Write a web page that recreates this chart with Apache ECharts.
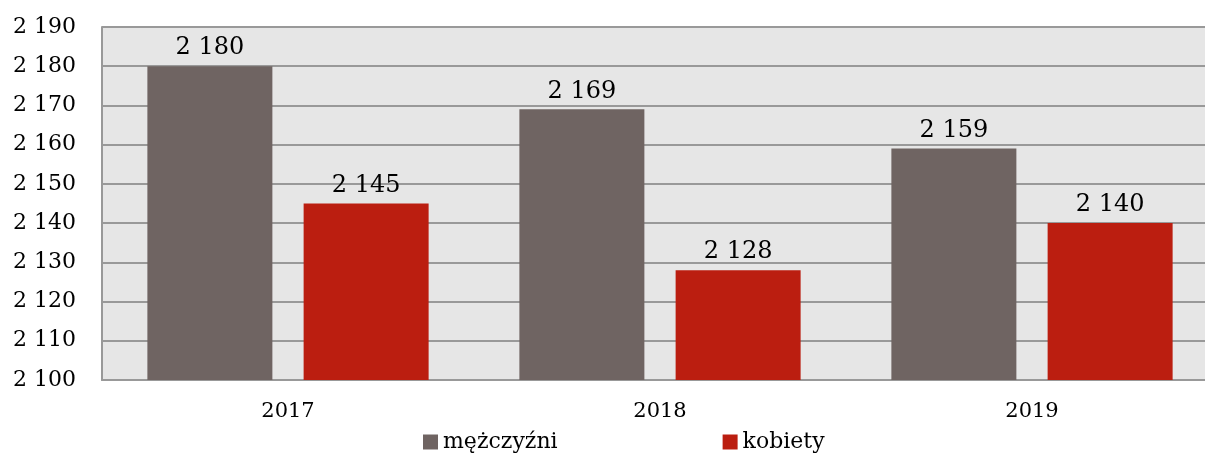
<!DOCTYPE html>
<html><head><meta charset="utf-8">
<script src="https://cdn.jsdelivr.net/npm/echarts@6/dist/echarts.min.js"></script>
<style>html,body{margin:0;padding:0;background:#fff}#c{width:1205px;height:460px}</style>
</head><body><div id="c"></div>
<script>
const categories = ['2017', '2018', '2019'];
const men = [2180, 2169, 2159];
const women = [2145, 2128, 2140];
const seriesNames = ['mężczyźni', 'kobiety'];
const FONT = '"DejaVu Serif", "Liberation Serif", serif';
const fmt = v => String(v).replace(/\B(?=(\d{3})+(?!\d))/g, ' ');
const chart = echarts.init(document.getElementById('c'));
chart.setOption({
  animation: false,
  grid: { left: 102, right: -13, top: 27, bottom: 80, outerBoundsMode: 'none', containLabel: false, show: true, backgroundColor: '#e6e6e6', borderWidth: 0 },
  legend: {
    bottom: 2, left: 418, itemGap: 165, itemWidth: 15, itemHeight: 15, icon: 'rect',
    textStyle: { fontFamily: FONT, fontSize: 22, color: '#000' },
    data: seriesNames
  },
  xAxis: {
    type: 'category', data: categories,
    axisLine: { lineStyle: { color: '#999', width: 2 } },
    axisTick: { show: false },
    axisLabel: { fontFamily: FONT, fontSize: 21, color: '#000', margin: 21 }
  },
  yAxis: {
    type: 'value', min: 2100, max: 2190, interval: 10,
    axisLine: { show: true, lineStyle: { color: '#999', width: 2 } },
    axisTick: { show: false },
    splitLine: { lineStyle: { color: '#999', width: 2 } },
    axisLabel: { fontFamily: FONT, fontSize: 22, color: '#000', margin: 26, formatter: fmt }
  },
  series: [
    { name: seriesNames[0], type: 'bar', data: men, barWidth: 125, barGap: '25%',
      itemStyle: { color: '#6f6462' },
      label: { show: true, position: 'top', distance: 6, fontFamily: FONT, fontSize: 24, color: '#000', formatter: p => fmt(p.value) } },
    { name: seriesNames[1], type: 'bar', data: women, barWidth: 125,
      itemStyle: { color: '#bb1e10' },
      label: { show: true, position: 'top', distance: 6, fontFamily: FONT, fontSize: 24, color: '#000', formatter: p => fmt(p.value) } }
  ]
});
</script></body></html>
